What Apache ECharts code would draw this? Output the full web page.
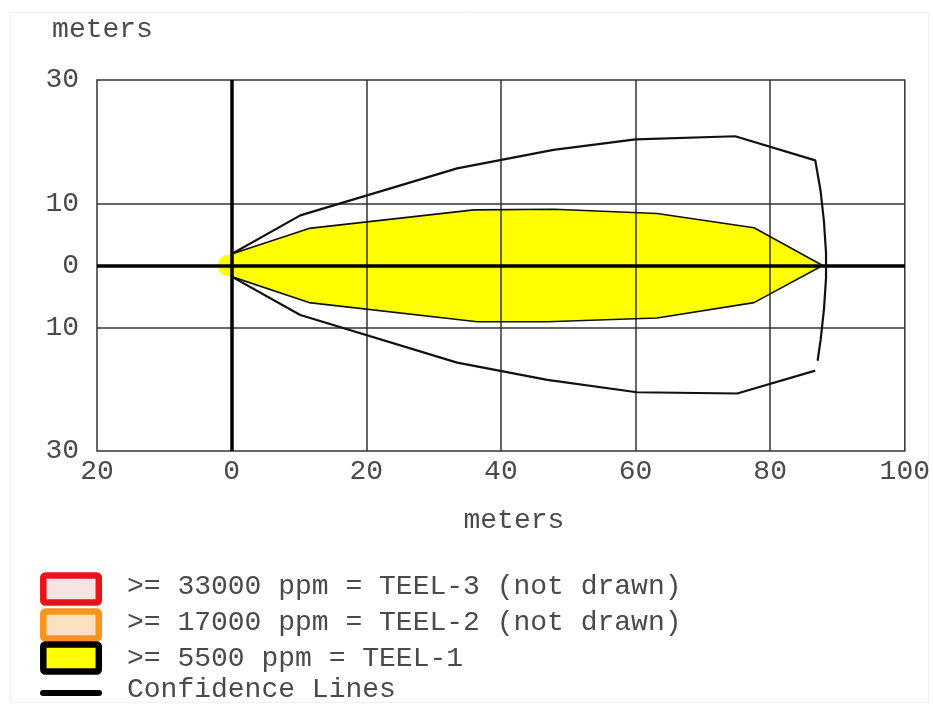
<!DOCTYPE html>
<html>
<head>
<meta charset="utf-8">
<script src="https://cdn.jsdelivr.net/npm/echarts@6/dist/echarts.min.js"></script>
<style>
html,body{margin:0;padding:0;background:#fff;}
#chart{width:933px;height:705px;}
</style>
</head>
<body>
<div id="chart"></div>
<script>
// ---- data (meters) ----
var xTicks = [-20, 0, 20, 40, 60, 80, 100];
var yTickLabels = [-30, -10, 0, 10, 30];
var yGridLines = [-10, 10];
var xGridLines = [20, 40, 60, 80];

// TEEL-1 threat zone, filled (includes small rounded source region)
var teel1FillUpper = [[-2.1, 0], [-1.8, 1.0], [-1.1, 1.6], [0, 1.85], [11.5, 6.0], [36, 9.0], [47.9, 9.1], [63.2, 8.4], [77.6, 6.1], [87.8, 0]];
var teel1FillLower = [[-2.1, 0], [-1.8, -1.0], [-1.1, -1.6], [0, -1.8], [11.5, -6.0], [36.5, -9.1], [46.9, -9.1], [63.2, -8.5], [77.6, -6.0], [87.8, 0]];
// TEEL-1 outline edges
var teel1EdgeUpper = [[0, 1.85], [11.5, 6.0], [36, 9.0], [47.9, 9.1], [63.2, 8.4], [77.6, 6.1], [87.8, 0]];
var teel1EdgeLower = [[0, -1.8], [11.5, -6.0], [36.5, -9.1], [46.9, -9.1], [63.2, -8.5], [77.6, -6.0], [87.8, 0]];

// Confidence lines
var confUpper = [[0, 1.85], [10.2, 8.1], [33.5, 15.7], [47.8, 18.7], [60.0, 20.4], [74.8, 20.9], [86.7, 17.0],
                 [87.5, 12.0], [88.0, 7.0], [88.3, 2.0], [88.3, -2.0], [88.0, -7.0], [87.5, -12.0], [87.05, -15.4]];
var confLower = [[0, -1.8], [10.2, -8.0], [33.5, -15.7], [46.9, -18.5], [60.2, -20.5], [75.1, -20.7], [86.7, -17.0]];

// Legend
var legendLabels = [">= 33000 ppm = TEEL-3 (not drawn)", ">= 17000 ppm = TEEL-2 (not drawn)", ">= 5500 ppm = TEEL-1", "Confidence Lines"];
var legendStroke = ["#e8141b", "#f7941d", "#000000"];
var legendFill = ["#f6e4e4", "#fbe0c2", "#ffff00"];

var FONT = '"Liberation Mono", "Courier New", monospace';
var TXT = '#4a4a4a';

var chart = echarts.init(document.getElementById('chart'), null, {renderer: 'canvas'});

var gridMarks = [];
xGridLines.forEach(function (v) { gridMarks.push({xAxis: v}); });
yGridLines.forEach(function (v) { gridMarks.push({yAxis: v}); });
gridMarks.push({xAxis: 0, lineStyle: {color: '#000', width: 3.5, type: 'solid'}});
gridMarks.push({yAxis: 0, lineStyle: {color: '#000', width: 3.5, type: 'solid'}});

var legendRowsY = [589, 625, 658];
var graphics = [];
for (var i = 0; i < 3; i++) {
  graphics.push({
    type: 'rect',
    shape: {x: 43.3, y: legendRowsY[i] - 13.5, width: 55.5, height: 27, r: 2},
    style: {fill: legendFill[i], stroke: legendStroke[i], lineWidth: 6.5}
  });
}
graphics.push({
  type: 'line',
  shape: {x1: 43, y1: 693, x2: 99, y2: 693},
  style: {stroke: '#000', lineWidth: 6, lineCap: 'round'}
});
var textY = [587, 623, 659, 690];
for (var j = 0; j < legendLabels.length; j++) {
  graphics.push({
    type: 'text',
    x: 127, y: textY[j],
    style: {text: legendLabels[j], font: '28px ' + FONT, fill: TXT, textVerticalAlign: 'middle', verticalAlign: 'middle'}
  });
}
graphics.push({
  type: 'rect',
  shape: {x: 10.5, y: 12.5, width: 918, height: 690},
  style: {fill: 'none', stroke: '#f0f0f0', lineWidth: 1}
});

var option = {
  backgroundColor: '#ffffff',
  animation: false,
  grid: {left: 97, right: 28, top: 80, bottom: 254, show: true, borderColor: '#333', borderWidth: 1.5, backgroundColor: 'transparent'},
  xAxis: {
    type: 'value', min: -20, max: 100, interval: 20,
    name: 'meters', nameLocation: 'middle', nameGap: 70,
    nameTextStyle: {fontFamily: FONT, fontSize: 28, color: TXT, padding: [0, 0, 0, 26], verticalAlign: 'middle'},
    axisLine: {show: false, onZero: false}, axisTick: {show: false},
    splitLine: {show: false},
    axisLabel: {
      fontFamily: FONT, fontSize: 28, color: TXT, margin: 7,
      formatter: function (v) { return xTicks.indexOf(v) >= 0 ? String(Math.abs(v)) : ''; }
    }
  },
  yAxis: {
    type: 'value', min: -30, max: 30, interval: 10,
    name: 'meters', nameLocation: 'end', nameGap: 50,
    nameTextStyle: {fontFamily: FONT, fontSize: 28, color: TXT, padding: [0, 0, 0, 11], verticalAlign: 'middle', align: 'center'},
    axisLine: {show: false, onZero: false}, axisTick: {show: false},
    splitLine: {show: false},
    axisLabel: {
      fontFamily: FONT, fontSize: 28, color: TXT, margin: 18,
      formatter: function (v) { return yTickLabels.indexOf(v) >= 0 ? String(Math.abs(v)) : ''; }
    }
  },
  graphic: graphics,
  series: [
    {type: 'line', name: 'fillU', data: teel1FillUpper, symbol: 'none', z: 2,
     lineStyle: {width: 0, opacity: 0}, areaStyle: {color: '#ffff00', opacity: 1}, silent: true},
    {type: 'line', name: 'fillL', data: teel1FillLower, symbol: 'none', z: 2,
     lineStyle: {width: 0, opacity: 0}, areaStyle: {color: '#ffff00', opacity: 1}, silent: true},
    {type: 'line', name: 'grid', data: [[0, 0]], symbol: 'none', z: 4, lineStyle: {width: 0, opacity: 0}, silent: true,
     markLine: {silent: true, symbol: ['none', 'none'], label: {show: false}, animation: false,
       lineStyle: {color: '#333', width: 1.5, type: 'solid'}, data: gridMarks}},
    {type: 'line', name: 'edgeU', data: teel1EdgeUpper, symbol: 'none', z: 6, lineStyle: {color: '#111', width: 1.6}, silent: true},
    {type: 'line', name: 'edgeL', data: teel1EdgeLower, symbol: 'none', z: 6, lineStyle: {color: '#111', width: 1.6}, silent: true},
    {type: 'line', name: 'confU', data: confUpper, symbol: 'none', z: 7, lineStyle: {color: '#111', width: 2.2}, silent: true},
    {type: 'line', name: 'confL', data: confLower, symbol: 'none', z: 7, lineStyle: {color: '#111', width: 2.2}, silent: true}
  ]
};
chart.setOption(option);
</script>
</body>
</html>
